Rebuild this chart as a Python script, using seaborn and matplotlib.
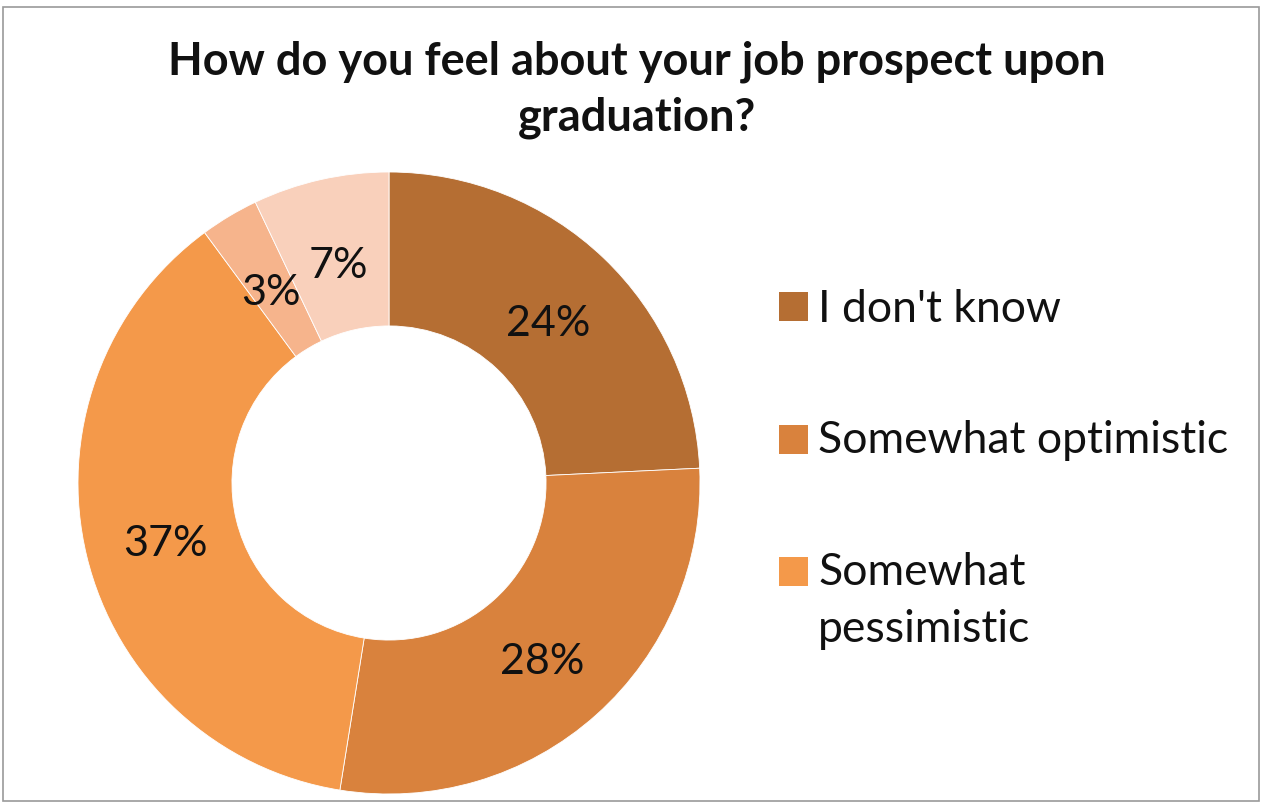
import matplotlib
matplotlib.use("Agg")
import matplotlib.pyplot as plt
from matplotlib.patches import Rectangle
import numpy as np
import seaborn as sns

# Survey responses
categories = ["I don't know", "Somewhat optimistic", "Somewhat pessimistic", "Very pessimistic", "Very optimistic"]
shares = [24, 28, 37, 3, 7]
legend_labels = ["I don't know", "Somewhat optimistic", "Somewhat\npessimistic"]
title = "How do you feel about your job prospect upon\ngraduation?"

sns.set_theme(style="white")
plt.rcParams["font.family"] = ["Lato", "DejaVu Sans"]

palette = sns.color_palette(["#B56E33", "#D9823D", "#F4994A", "#F6B48C", "#F9D0BB"])

W, H = 1268, 803
fig = plt.figure(figsize=(W / 100, H / 100), dpi=100)
fig.patch.set_facecolor("white")

# square axes holding the ring
cx, cy, r = 389, 484, 311
ax = fig.add_axes([(cx - r) / W, (H - cy - r) / H, 2 * r / W, 2 * r / H])
wedges, _ = ax.pie(
    shares,
    colors=palette,
    startangle=90,
    counterclock=False,
    radius=1.0,
    wedgeprops=dict(width=0.495, edgecolor="white", linewidth=0.6),
)
ax.set_xlim(-1, 1)
ax.set_ylim(-1, 1)
ax.set_aspect("equal")
ax.axis("off")

# percentage labels at the middle of each ring segment
total = sum(shares)
label_r = 0.74
start = 90.0
for v in shares:
    sweep = 360.0 * v / total
    mid = np.deg2rad(start - sweep / 2)
    ax.text(label_r * np.cos(mid), label_r * np.sin(mid) - 0.02, f"{v}%",
            ha="center", va="center", fontsize=31, color="#111111")
    start -= sweep

# title
fig.text(637 / W, 1 - 90 / H, title, ha="center", va="center", fontsize=32.5,
         fontweight="bold", color="#111111", linespacing=1.4)

# legend
square_y = [307, 440, 572]
baseline_y = [322, 453, 585]
line_step = 57
for lab, ys, yb, col in zip(legend_labels, square_y, baseline_y, palette[:3]):
    fig.add_artist(Rectangle((779 / W, 1 - (ys + 14.5) / H), 29 / W, 29 / H,
                             transform=fig.transFigure, facecolor=col, edgecolor="none"))
    for i, line in enumerate(lab.split("\n")):
        fig.text(818 / W, 1 - (yb + i * line_step) / H, line, ha="left",
                 va="baseline", fontsize=32, color="#111111")

# frame around the chart area
fig.add_artist(Rectangle((3 / W, 1 / H), (1259 - 3) / W, (795 - 1) / H,
                         transform=fig.transFigure, fill=False, edgecolor="#9a9a9a",
                         linewidth=1.2))

fig.savefig("out.png", dpi=100, facecolor="white")
